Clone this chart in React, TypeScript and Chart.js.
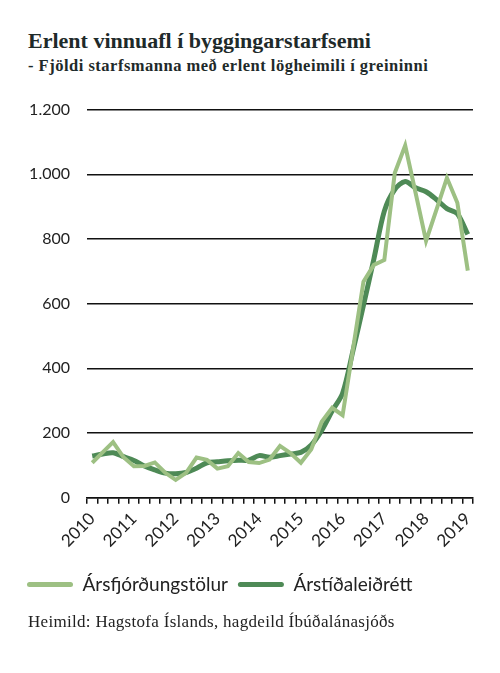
import React, { useEffect, useRef } from 'react';
import { Chart, registerables } from 'chart.js';

Chart.register(...registerables);

const years = ['2010', '2011', '2012', '2013', '2014', '2015', '2016', '2017', '2018', '2019'];
// one label per quarter, 2010K1 - 2019K1
const quarters = years.flatMap((y) => ['K1', 'K2', 'K3', 'K4'].map((q) => y + q)).slice(0, 37);

const arsfjordungstolur = [
  108, 140, 172, 125, 97, 98, 109, 77, 55, 77, 124, 117, 90,
  97, 138, 110, 107, 118, 160, 138, 108, 150, 235, 278, 255,
  460, 668, 720, 735, 1004, 1089, 942, 794, 891, 989, 912, 702,
];

const arstidaleidrett = [
  129, 135, 139, 127, 115, 98, 86, 76, 74, 78, 91, 108, 111,
  114, 116, 116, 130, 125, 130, 135, 140, 163, 208, 268, 323,
  455, 595, 738, 886, 953, 978, 958, 946, 922, 894, 878, 814,
];

const yTicks = [0, 200, 400, 600, 800, 1000, 1200];

const LIGHT = '#9dc083';
const DARK = '#4e8a56';
const SANS = 'Lato, sans-serif';
const SERIF = '"Liberation Serif", serif';

const formatNumber = (v: number) =>
  v >= 1000 ? `${Math.floor(v / 1000)}.${String(v % 1000).padStart(3, '0')}` : String(v);

const App: React.FC = () => {
  const canvasRef = useRef<HTMLCanvasElement>(null);
  const chartRef = useRef<Chart | null>(null);

  useEffect(() => {
    if (!canvasRef.current) return;
    if (chartRef.current) chartRef.current.destroy();

    chartRef.current = new Chart(canvasRef.current, {
      type: 'line',
      data: {
        labels: quarters,
        datasets: [
          {
            label: 'Ársfjórðungstölur',
            data: arsfjordungstolur,
            borderColor: LIGHT,
            backgroundColor: LIGHT,
            borderWidth: 4,
            pointRadius: 0,
            tension: 0,
          },
          {
            label: 'Árstíðaleiðrétt',
            data: arstidaleidrett,
            borderColor: DARK,
            backgroundColor: DARK,
            borderWidth: 5,
            pointRadius: 0,
            tension: 0.3,
          },
        ],
      },
      options: {
        animation: false,
        responsive: false,
        layout: { padding: { left: 17, right: 27, top: 10, bottom: 10 } },
        plugins: {
          tooltip: { enabled: false },
          legend: {
            position: 'bottom',
            align: 'start',
            labels: {
              boxWidth: 46,
              boxHeight: 5,
              padding: 10,
              color: '#222',
              font: { family: SANS, size: 19 },
              useBorderRadius: true,
              borderRadius: 2.5,
              generateLabels: (chart) =>
                Chart.defaults.plugins.legend.labels
                  .generateLabels(chart)
                  .map((l) => ({ ...l, lineWidth: 0 })),
            },
          },
        },
        scales: {
          x: {
            offset: true,
            afterFit: (scale) => {
              scale.height += 9;
            },
            grid: {
              offset: true,
              drawOnChartArea: false,
              drawTicks: true,
              tickLength: 6,
              color: '#111',
              lineWidth: 1.5,
            },
            border: { display: true, color: '#111', width: 1.5 },
            ticks: {
              autoSkip: false,
              maxRotation: 45,
              minRotation: 45,
              padding: 5,
              color: '#222',
              font: { family: SANS, size: 17 },
              callback: (_v, i) => (i % 4 === 0 ? quarters[i].slice(0, 4) : ''),
            },
          },
          y: {
            min: yTicks[0],
            max: yTicks[yTicks.length - 1],
            afterFit: (scale) => {
              scale.width = 70;
            },
            afterBuildTicks: (scale) => {
              scale.ticks = yTicks.map((v) => ({ value: v }));
            },
            grid: { color: '#111', lineWidth: 1.5, drawTicks: false },
            border: { display: false },
            ticks: {
              padding: 17,
              color: '#222',
              font: { family: SANS, size: 16 },
              callback: (v) => formatNumber(Number(v)),
            },
          },
        },
      },
    });

    return () => {
      if (chartRef.current) {
        chartRef.current.destroy();
        chartRef.current = null;
      }
    };
  }, []);

  return (
    <div style={{ position: 'absolute', left: 0, top: 0, width: 500, height: 673, background: '#fff' }}>
      <div
        style={{
          position: 'absolute',
          left: 28,
          top: 29,
          fontFamily: SERIF,
          fontWeight: 'bold',
          fontSize: 22,
          lineHeight: '24px',
          color: '#1e2a2a',
          whiteSpace: 'nowrap',
        }}
      >
        Erlent vinnuafl í byggingarstarfsemi
      </div>
      <div
        style={{
          position: 'absolute',
          left: 28,
          top: 56,
          fontFamily: SERIF,
          fontWeight: 'bold',
          fontSize: 16.5,
          letterSpacing: 0.5,
          lineHeight: '19px',
          color: '#1e2a2a',
          whiteSpace: 'nowrap',
        }}
      >
        - Fjöldi starfsmanna með erlent lögheimili í greininni
      </div>
      <canvas ref={canvasRef} width={500} height={531} style={{ position: 'absolute', left: 0, top: 83 }} />
      <div
        style={{
          position: 'absolute',
          left: 28,
          top: 612,
          fontFamily: SERIF,
          fontSize: 17,
          letterSpacing: 0.3,
          lineHeight: '19px',
          color: '#222',
          whiteSpace: 'nowrap',
        }}
      >
        Heimild: Hagstofa Íslands, hagdeild Íbúðalánasjóðs
      </div>
    </div>
  );
};

export default App;
